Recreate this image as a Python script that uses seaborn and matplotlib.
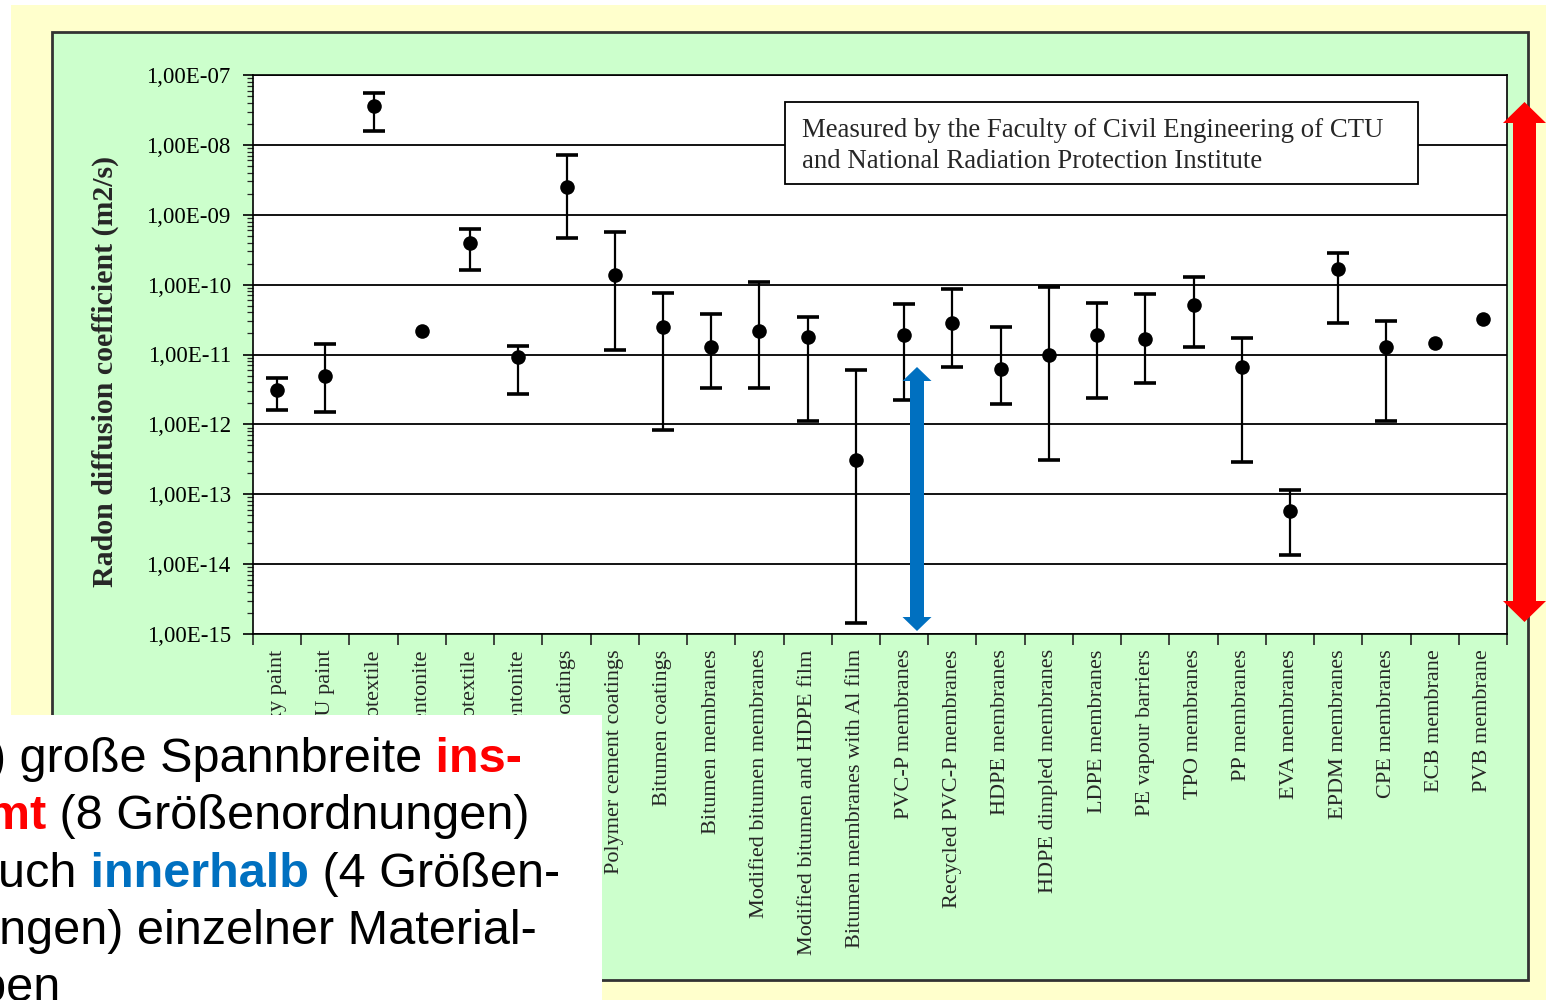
import numpy as np
import pandas as pd
import matplotlib.pyplot as plt
import matplotlib.ticker as mticker
from matplotlib.patches import Rectangle, Polygon
import seaborn as sns

# Datos: coeficiente de difusión de radón por material (valor, mínimo, máximo)
materiales = [
    'Epoxy paint', 'PU paint', 'Geotextile', 'Bentonite', 'Geotextile', 'Bentonite',
    'Acrylic coatings', 'Polymer cement coatings', 'Bitumen coatings', 'Bitumen membranes',
    'Modified bitumen membranes', 'Modified bitumen and HDPE film',
    'Bitumen membranes with Al film', 'PVC-P membranes', 'Recycled PVC-P membranes',
    'HDPE membranes', 'HDPE dimpled membranes', 'LDPE membranes', 'PE vapour barriers',
    'TPO membranes', 'PP membranes', 'EVA membranes', 'EPDM membranes', 'CPE membranes',
    'ECB membrane', 'PVB membrane',
]
d_valor = [3.1e-12, 4.9e-12, 3.6e-08, 2.2e-11, 3.95e-10, 9.3e-12, 2.5e-09, 1.38e-10,
           2.5e-11, 1.3e-11, 2.2e-11, 1.8e-11, 3.1e-13, 1.93e-11, 2.86e-11, 6.3e-12,
           9.9e-12, 1.9e-11, 1.69e-11, 5.1e-11, 6.7e-12, 5.7e-14, 1.68e-10, 1.3e-11,
           1.48e-11, 3.27e-11]
d_min = [1.6e-12, 1.5e-12, 1.6e-08, np.nan, 1.6e-10, 2.7e-12, 4.7e-10, 1.16e-11,
         8.3e-13, 3.3e-12, 3.3e-12, 1.1e-12, 1.43e-15, 2.2e-12, 6.7e-12, 1.96e-12,
         3.1e-13, 2.4e-12, 3.96e-12, 1.3e-11, 2.9e-13, 1.33e-14, 2.83e-11, 1.1e-12,
         np.nan, np.nan]
d_max = [4.6e-12, 1.4e-11, 5.5e-08, np.nan, 6.3e-10, 1.33e-11, 7.2e-09, 5.7e-10,
         7.6e-11, 3.8e-11, 1.08e-10, 3.45e-11, 6.0e-12, 5.2e-11, 8.8e-11, 2.5e-11,
         9.4e-11, 5.5e-11, 7.3e-11, 1.3e-10, 1.7e-11, 1.16e-13, 2.87e-10, 3.05e-11,
         np.nan, np.nan]

texto_caja = ['Measured by the Faculty of Civil Engineering of CTU',
              'and National Radiation Protection Institute']

df = pd.DataFrame({'pos': np.arange(len(materiales)), 'material': materiales,
                   'D': d_valor, 'low': d_min, 'high': d_max})

sns.set_style("ticks")
plt.rcParams['font.family'] = ['Liberation Serif', 'DejaVu Serif']

W, H = 1546, 1000
fig = plt.figure(figsize=(W / 100, H / 100), dpi=100)
fig.patch.set_facecolor('white')


def fx(x):
    return x / W


def fy(y):
    return 1 - y / H


# Fondos (amarillo y panel verde)
fig.add_artist(Rectangle((fx(11), 0), 1 - fx(11), fy(5), transform=fig.transFigure,
                         facecolor='#FFFFCC', edgecolor='none', zorder=-3))
fig.add_artist(Rectangle((fx(52), fy(980)), fx(1528) - fx(52), fy(32) - fy(980),
                         transform=fig.transFigure, facecolor='#CCFFCC',
                         edgecolor='#333333', lw=2, zorder=-2))

ax = fig.add_axes([fx(253), fy(634), fx(1507) - fx(253), fy(75) - fy(634)])
ax.set_facecolor('white')

# Barras de error y puntos
con_rango = df['low'].notna()
sub = df[con_rango]
ax.errorbar(sub['pos'], sub['D'], yerr=[sub['D'] - sub['low'], sub['high'] - sub['D']],
            fmt='none', ecolor='black', elinewidth=1.6, capsize=8, capthick=2.6, zorder=3)
sns.scatterplot(data=df, x='pos', y='D', color='black', s=110, linewidth=0,
                zorder=4, ax=ax, legend=False)

ax.set_yscale('log')
ax.set_ylim(1e-15, 1e-7)
ax.set_xlim(-0.5, len(materiales) - 0.5)

ax.yaxis.set_major_locator(mticker.LogLocator(base=10, numticks=20))
ax.yaxis.set_minor_locator(mticker.LogLocator(base=10, subs=np.arange(2, 10), numticks=20))
ax.yaxis.set_major_formatter(mticker.FuncFormatter(
    lambda v, p: '1,00E-%02d' % round(-np.log10(v))))
ax.yaxis.set_minor_formatter(mticker.NullFormatter())
ax.tick_params(axis='y', which='major', length=7, width=1.2, direction='out',
               labelsize=16.5, pad=9, colors='black')
ax.tick_params(axis='y', which='minor', length=4, width=0.9, direction='out')
ax.yaxis.grid(True, which='major', color='black', lw=1.3)
ax.set_axisbelow(True)

ax.set_xticks(df['pos'])
ax.set_xticklabels(df['material'], rotation=90, fontsize=16, va='top')
ax.set_xticks(np.arange(-0.5, len(materiales)), minor=True)
ax.tick_params(axis='x', which='major', length=0, pad=11)
ax.tick_params(axis='x', which='minor', length=8, width=1.2, direction='out')
ax.set_xlabel('')

ax.set_ylabel('Radon diffusion coefficient (m2/s)', fontsize=21.5, fontweight='bold')
ax.yaxis.set_label_coords(-0.107, 0.47)

for s in ax.spines.values():
    s.set_color('black')
    s.set_linewidth(1.2)

# Cuadro con la fuente de las mediciones
ax.add_patch(Rectangle((0.4242, 0.805), 0.5048, 0.1467, transform=ax.transAxes,
                       facecolor='white', edgecolor='black', lw=1.3, zorder=5))
ax.text(0.4378, 0.889, texto_caja[0], transform=ax.transAxes, fontsize=19.3,
        va='baseline', ha='left', zorder=6)
ax.text(0.4378, 0.8336, texto_caja[1], transform=ax.transAxes, fontsize=19.3,
        va='baseline', ha='left', zorder=6)


# Flechas dobles
def flecha_doble(xc, y_top, y_bot, ancho, ancho_punta, largo_punta, color):
    pts = [(xc, y_top), (xc + ancho_punta / 2, y_top + largo_punta),
           (xc + ancho / 2, y_top + largo_punta), (xc + ancho / 2, y_bot - largo_punta),
           (xc + ancho_punta / 2, y_bot - largo_punta), (xc, y_bot),
           (xc - ancho_punta / 2, y_bot - largo_punta), (xc - ancho / 2, y_bot - largo_punta),
           (xc - ancho / 2, y_top + largo_punta), (xc - ancho_punta / 2, y_top + largo_punta)]
    fig.add_artist(Polygon([(fx(x), fy(y)) for x, y in pts], closed=True,
                           transform=fig.transFigure, facecolor=color,
                           edgecolor='none', zorder=9))


flecha_doble(1524.5, 102, 622, 23, 43, 21, '#FF0000')
flecha_doble(917, 367, 631, 14, 29, 14, '#0070C0')

# Recuadro blanco con el texto en alemán
fig.add_artist(Rectangle((0, 0), fx(602), fy(715), transform=fig.transFigure,
                         facecolor='white', edgecolor='none', zorder=10))

lineas = [
    ([('b) große Spannbreite', 'black', 'normal'), (' ins-', '#FF0000', 'bold')], 522, 772),
    ([('gesamt', '#FF0000', 'bold'), (' (8 Größenordnungen)', 'black', 'normal')], 530, 829),
    ([('aber auch', 'black', 'normal'), (' innerhalb', '#0070C0', 'bold'),
      (' (4 Größen-', 'black', 'normal')], 560, 887),
    ([('ordnungen) einzelner Material-', 'black', 'normal')], 537, 944),
    ([('gruppen', 'black', 'normal')], 60, 1001),
]
renderer = fig.canvas.get_renderer()
for segmentos, x_fin, y_base in lineas:
    textos = []
    for s, color, peso in segmentos:
        t = fig.text(0, fy(y_base), s, color=color, fontweight=peso, fontsize=35,
                     family=['Liberation Sans', 'DejaVu Sans'], va='baseline',
                     ha='left', zorder=11)
        textos.append(t)
    anchos = [t.get_window_extent(renderer).width for t in textos]
    x = x_fin - sum(anchos)
    for t, w in zip(textos, anchos):
        t.set_x(fx(x))
        x += w

fig.savefig('out.png', dpi=100, facecolor=fig.get_facecolor())
